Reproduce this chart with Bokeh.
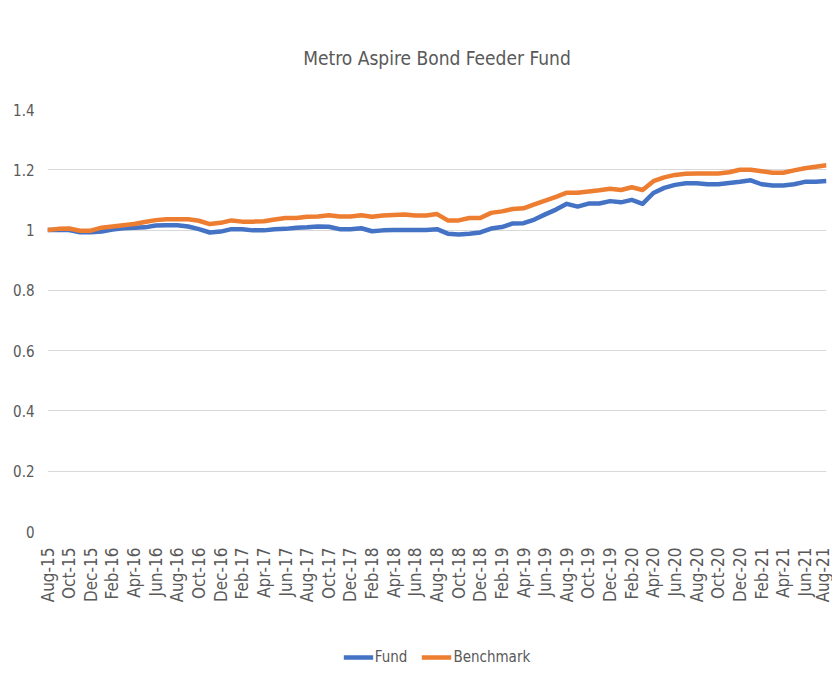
from math import pi
from bokeh.plotting import figure
from bokeh.layouts import column
from bokeh.models import Range1d, FixedTicker, Legend, LegendItem
from bokeh.core.properties import value
from bokeh.embed import file_html
from bokeh.resources import INLINE

months = ["Aug-15","Sep-15","Oct-15","Nov-15","Dec-15","Jan-16","Feb-16","Mar-16","Apr-16","May-16","Jun-16","Jul-16",
          "Aug-16","Sep-16","Oct-16","Nov-16","Dec-16","Jan-17","Feb-17","Mar-17","Apr-17","May-17","Jun-17","Jul-17",
          "Aug-17","Sep-17","Oct-17","Nov-17","Dec-17","Jan-18","Feb-18","Mar-18","Apr-18","May-18","Jun-18","Jul-18",
          "Aug-18","Sep-18","Oct-18","Nov-18","Dec-18","Jan-19","Feb-19","Mar-19","Apr-19","May-19","Jun-19","Jul-19",
          "Aug-19","Sep-19","Oct-19","Nov-19","Dec-19","Jan-20","Feb-20","Mar-20","Apr-20","May-20","Jun-20","Jul-20",
          "Aug-20","Sep-20","Oct-20","Nov-20","Dec-20","Jan-21","Feb-21","Mar-21","Apr-21","May-21","Jun-21","Jul-21",
          "Aug-21"]

fund = [1.000,1.000,1.000,0.993,0.993,0.995,1.002,1.006,1.008,1.009,1.015,1.016,
        1.016,1.012,1.003,0.992,0.995,1.003,1.003,0.999,0.999,1.003,1.004,1.008,
        1.009,1.012,1.011,1.003,1.003,1.006,0.996,0.999,1.000,1.000,1.000,1.000,
        1.003,0.988,0.985,0.988,0.992,1.005,1.010,1.022,1.023,1.035,1.052,1.068,
        1.087,1.078,1.088,1.088,1.096,1.092,1.100,1.087,1.123,1.140,1.150,1.155,
        1.155,1.152,1.152,1.156,1.160,1.165,1.152,1.148,1.148,1.152,1.160,1.160,
        1.163]

benchmark = [1.000,1.004,1.005,0.998,0.998,1.008,1.012,1.016,1.020,1.027,1.033,1.036,
             1.036,1.036,1.031,1.020,1.024,1.032,1.028,1.028,1.029,1.035,1.040,1.040,
             1.044,1.045,1.049,1.045,1.045,1.049,1.044,1.048,1.050,1.052,1.048,1.048,
             1.053,1.032,1.032,1.040,1.040,1.057,1.062,1.070,1.072,1.085,1.098,1.110,
             1.124,1.124,1.128,1.132,1.137,1.133,1.142,1.133,1.162,1.175,1.183,1.187,
             1.188,1.188,1.188,1.192,1.200,1.200,1.195,1.190,1.190,1.198,1.205,1.210,
             1.215]

y_ticks = [0, 0.2, 0.4, 0.6, 0.8, 1, 1.2, 1.4]
y_labels = ["0", "0.2", "0.4", "0.6", "0.8", "1", "1.2", "1.4"]

title_text = "Metro Aspire Bond Feeder Fund"
series_names = ["Fund", "Benchmark"]
colors = ["#4472C4", "#ED7D31"]

NARROW = "'Liberation Sans Narrow', 'DejaVu Sans Condensed', 'Liberation Sans'"
GRAY = "#595959"

x = list(range(len(months)))


def blank_strip(height, left):
    f = figure(width=832, height=height, output_backend="svg", toolbar_location=None,
               x_range=Range1d(0, 1), y_range=Range1d(0, 1),
               x_axis_location=None, y_axis_location=None,
               min_border=0, min_border_left=left, min_border_right=6)
    f.outline_line_color = None
    f.xgrid.grid_line_color = None
    f.ygrid.grid_line_color = None
    return f


# title strip
tf = blank_strip(94, 30)
tf.text(x=[0.5], y=[0.39], text=[title_text], text_align="center", text_baseline="middle",
        text_font=value(NARROW), text_font_size="19px", text_color=GRAY)

# main chart
p = figure(width=832, height=542, output_backend="svg", toolbar_location=None,
           x_range=Range1d(0, len(months) - 1), y_range=Range1d(0, 1.4),
           min_border_left=47, min_border_right=6, min_border_top=15, min_border_bottom=105)

p.outline_line_color = None
p.background_fill_color = "white"
p.border_fill_color = "white"

p.line(x, fund, line_color=colors[0], line_width=4.5, line_join="round")
p.line(x, benchmark, line_color=colors[1], line_width=4.5, line_join="round")

# y axis
p.yaxis.ticker = FixedTicker(ticks=y_ticks)
p.yaxis.major_label_overrides = {t: l for t, l in zip(y_ticks, y_labels)}
p.yaxis.axis_line_color = None
p.yaxis.major_tick_line_color = None
p.yaxis.minor_tick_line_color = None
p.yaxis.major_label_text_font = NARROW
p.yaxis.major_label_text_font_size = "15px"
p.yaxis.major_label_text_color = GRAY
p.yaxis.major_label_standoff = 7

# x axis
x_ticks = x[::2]
p.xaxis.ticker = FixedTicker(ticks=x_ticks)
p.xaxis.major_label_overrides = {i: months[i] for i in x_ticks}
p.xaxis.major_label_orientation = pi / 2
p.xaxis.axis_line_color = None
p.xaxis.major_tick_line_color = None
p.xaxis.minor_tick_line_color = None
p.xaxis.major_label_text_font = NARROW
p.xaxis.major_label_text_font_size = "17px"
p.xaxis.major_label_text_color = GRAY
p.xaxis.major_label_standoff = 10

p.xgrid.grid_line_color = None
p.ygrid.grid_line_color = "#d9d9d9"
p.ygrid.grid_line_width = 1.2

# legend strip below the chart
lf = blank_strip(42, 30)
l1 = lf.line([-10, -9], [-10, -10], line_color=colors[0], line_width=4.5)
l2 = lf.line([-10, -9], [-10, -10], line_color=colors[1], line_width=4.5)
legend = Legend(items=[LegendItem(label=series_names[0], renderers=[l1]),
                       LegendItem(label=series_names[1], renderers=[l2])],
                orientation="horizontal", location="center",
                label_text_font=NARROW, label_text_font_size="15px",
                label_text_color=GRAY, glyph_width=30, label_standoff=2,
                spacing=14, border_line_color=None, background_fill_alpha=0,
                padding=0, margin=0)
lf.add_layout(legend, "center")

layout = column(tf, p, lf, spacing=0)
open("out.html", "w").write(file_html(layout, INLINE))
